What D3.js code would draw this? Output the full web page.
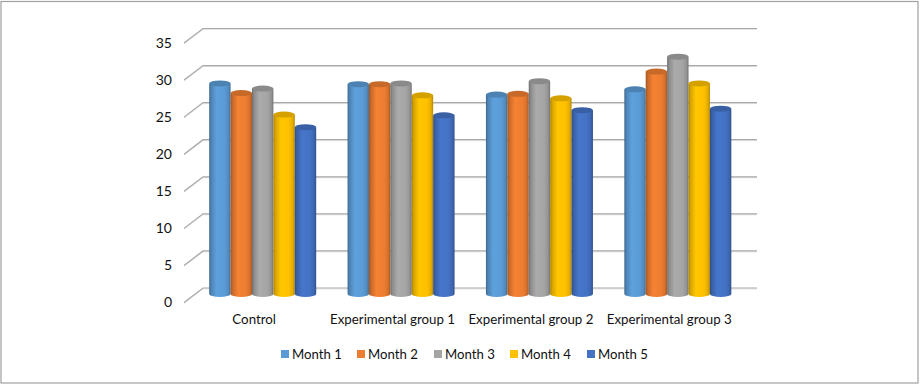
<!DOCTYPE html>
<html><head><meta charset="utf-8">
<script src="https://cdn.jsdelivr.net/npm/d3@7"></script>
<style>html,body{margin:0;padding:0;background:#fff}svg{display:block}text{font-family:Lato,"Open Sans",sans-serif;fill:#111}</style>
</head><body><svg id="c" width="920" height="385"></svg>
<script>
const categories=["Control","Experimental group 1","Experimental group 2","Experimental group 3"];
const seriesNames=["Month 1","Month 2","Month 3","Month 4","Month 5"];
const month1=[28.4,28.3,26.9,27.6];
const month2=[27.1,28.3,27.0,30.0];
const month3=[27.7,28.4,28.7,32.0];
const month4=[24.2,26.8,26.4,28.4];
const month5=[22.5,24.1,24.8,25.0];
const seriesValues=[month1,month2,month3,month4,month5];
const colors=["#5b9bd5","#ed7d31","#a5a5a5","#ffc000","#4472c4"];
const tickValues=[0,5,10,15,20,25,30,35];

const svg=d3.select("#c");
svg.append("rect").attr("x",1).attr("y",1.5).attr("width",917).attr("height",381.5).attr("fill","#fff").attr("stroke","#a0a0a0").attr("stroke-width",1.2);
svg.append("line").attr("x1",0.5).attr("x2",0.5).attr("y1",1).attr("y2",383).attr("stroke","#c4c4c4");
const defs=svg.append("defs");
colors.forEach((c,i)=>{
  const g=defs.append("linearGradient").attr("id","g"+i);
  const col=d3.color(c);
  [[0,col.darker(1.1)],[0.1,col.darker(0.45)],[0.35,col.brighter(0.1)],[0.72,col],[0.9,col.darker(0.3)],[1,col.darker(1)]].forEach(([o,k])=>g.append("stop").attr("offset",o).attr("stop-color",k));
});
const backY=d3.scaleLinear().domain([0,35]).range([288,28.5]);
const depth={dx:19,dy:14.5};
const backLeft=203,backRight=757;
tickValues.forEach(v=>{
  const y=backY(v);
  svg.append("path").attr("d",`M${backLeft-depth.dx},${y+depth.dy+1}L${backLeft},${y+1}L${backRight},${y+1}`).attr("fill","none").attr("stroke","#e4e4e4").attr("stroke-width",1);
  svg.append("path").attr("d",`M${backLeft-depth.dx},${y+depth.dy}L${backLeft},${y}L${backRight},${y}`).attr("fill","none").attr("stroke","#a8a8a8").attr("stroke-width",1.2);
  svg.append("text").attr("x",172).attr("y",y+depth.dy-0.5).attr("dy","0.36em").attr("text-anchor","end").attr("font-size",14).text(v);
});
const barY=d3.scaleLinear().domain([0,35]).range([294,34.5]);
const groupX=d3.scaleBand().domain(categories).range([193.5,747]);
const barW=21.4, rx=barW/2, ry=3;
const step=groupX.step();
const barX=d3.scaleBand().domain(seriesNames).range([0,barW*5]);
const g0=(step-barW*5)/2;
categories.forEach((cat,ci)=>{
  const gx=groupX(cat)+g0;
  seriesNames.forEach((s,si)=>{
    const v=seriesValues[si][ci];
    const x=gx+barX(s), yt=barY(v), yb=barY(0);
    const d=`M${x},${yt}L${x},${yb}A${rx},${ry} 0 0 0 ${x+barW},${yb}L${x+barW},${yt}Z`;
    svg.append("path").attr("d",d).attr("fill",`url(#g${si})`);
    svg.append("ellipse").attr("cx",x+rx).attr("cy",yt).attr("rx",rx).attr("ry",ry).attr("fill",d3.color(colors[si]).darker(0.5));
  });
  svg.append("text").attr("x",groupX(cat)+step/2-8.5).attr("y",323.5).attr("text-anchor","middle").attr("font-size",13.3).text(cat);
});
const legendX=[281,357,434,510,587];
seriesNames.forEach((s,i)=>{
  svg.append("rect").attr("x",legendX[i]).attr("y",350).attr("width",8).attr("height",8).attr("fill",colors[i]);
  svg.append("text").attr("x",legendX[i]+11).attr("y",358.5).attr("font-size",13.2).text(s);
});
</script></body></html>
